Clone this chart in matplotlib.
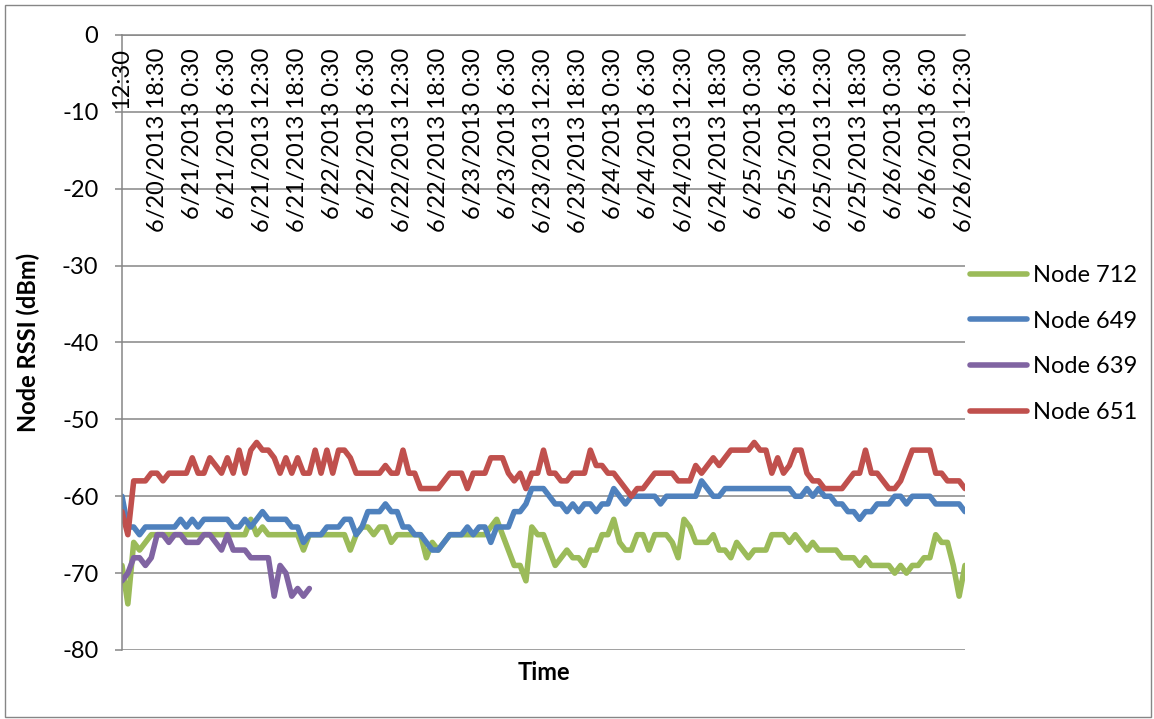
import matplotlib
matplotlib.use("Agg")
import matplotlib.pyplot as plt
import matplotlib.dates as mdates
import pandas as pd
from matplotlib.patches import Rectangle

plt.rcParams["font.family"] = ["Lato", "DejaVu Sans"]
plt.rcParams["axes.unicode_minus"] = False

# hourly RSSI readings, 6/20/2013 12:30 .. 6/26/2013 12:30
start = "2013-06-20 12:30"

node_712 = [
    -69, -74, -66, -67, -66, -65, -65, -65, -65, -65, -65, -65, -65, -65, -65, -65, -65, -65, -65, -65, -65, -65, -63, -65,
    -64, -65, -65, -65, -65, -65, -65, -67, -65, -65, -65, -65, -65, -65, -65, -67, -65, -64, -64, -65, -64, -64, -66, -65,
    -65, -65, -65, -65, -68, -66, -67, -66, -65, -65, -65, -65, -65, -65, -65, -64, -63, -65, -67, -69, -69, -71, -64, -65,
    -65, -67, -69, -68, -67, -68, -68, -69, -67, -67, -65, -65, -63, -66, -67, -67, -65, -65, -67, -65, -65, -65, -66, -68,
    -63, -64, -66, -66, -66, -65, -67, -67, -68, -66, -67, -68, -67, -67, -67, -65, -65, -65, -66, -65, -66, -67, -66, -67,
    -67, -67, -67, -68, -68, -68, -69, -68, -69, -69, -69, -69, -70, -69, -70, -69, -69, -68, -68, -65, -66, -66, -69, -73, -69,
]

node_649 = [
    -60, -64, -64, -65, -64, -64, -64, -64, -64, -64, -63, -64, -63, -64, -63, -63, -63, -63, -63, -64, -64, -63, -64, -63,
    -62, -63, -63, -63, -63, -64, -64, -66, -65, -65, -65, -64, -64, -64, -63, -63, -65, -64, -62, -62, -62, -61, -62, -62,
    -64, -64, -65, -65, -66, -67, -67, -66, -65, -65, -65, -64, -65, -64, -64, -66, -64, -64, -64, -62, -62, -61, -59, -59,
    -59, -60, -61, -61, -62, -61, -62, -61, -61, -62, -61, -61, -59, -60, -61, -60, -60, -60, -60, -60, -61, -60, -60, -60,
    -60, -60, -60, -58, -59, -60, -60, -59, -59, -59, -59, -59, -59, -59, -59, -59, -59, -59, -59, -60, -60, -59, -60, -59,
    -60, -60, -61, -61, -62, -62, -63, -62, -62, -61, -61, -61, -60, -60, -61, -60, -60, -60, -60, -61, -61, -61, -61, -61, -62,
]

# node 639 stops reporting after ~33 hours
node_639 = [
    -71, -70, -68, -68, -69, -68, -65, -65, -66, -65, -65, -66, -66, -66, -65, -65, -66, -67, -65, -67, -67, -67, -68, -68,
    -68, -68, -73, -69, -70, -73, -72, -73, -72,
]

node_651 = [
    -62, -65, -58, -58, -58, -57, -57, -58, -57, -57, -57, -57, -55, -57, -57, -55, -56, -57, -55, -57, -54, -57, -54, -53,
    -54, -54, -55, -57, -55, -57, -55, -57, -57, -54, -57, -54, -57, -54, -54, -55, -57, -57, -57, -57, -57, -56, -57, -57,
    -54, -57, -57, -59, -59, -59, -59, -58, -57, -57, -57, -59, -57, -57, -57, -55, -55, -55, -57, -58, -57, -59, -57, -57,
    -54, -57, -57, -58, -58, -57, -57, -57, -54, -56, -56, -57, -57, -58, -59, -60, -59, -59, -58, -57, -57, -57, -57, -58,
    -58, -58, -56, -57, -56, -55, -56, -55, -54, -54, -54, -54, -53, -54, -54, -57, -55, -57, -56, -54, -54, -57, -58, -58,
    -59, -59, -59, -59, -58, -57, -57, -54, -57, -57, -58, -59, -59, -58, -56, -54, -54, -54, -54, -57, -57, -58, -58, -58, -59,
]

tick_labels = [
    "12:30",
    "6/20/2013 18:30",
    "6/21/2013 0:30", "6/21/2013 6:30", "6/21/2013 12:30", "6/21/2013 18:30",
    "6/22/2013 0:30", "6/22/2013 6:30", "6/22/2013 12:30", "6/22/2013 18:30",
    "6/23/2013 0:30", "6/23/2013 6:30", "6/23/2013 12:30", "6/23/2013 18:30",
    "6/24/2013 0:30", "6/24/2013 6:30", "6/24/2013 12:30", "6/24/2013 18:30",
    "6/25/2013 0:30", "6/25/2013 6:30", "6/25/2013 12:30", "6/25/2013 18:30",
    "6/26/2013 0:30", "6/26/2013 6:30", "6/26/2013 12:30",
]

series = [
    ("Node 712", node_712, "#9BBB59"),
    ("Node 649", node_649, "#4F81BD"),
    ("Node 639", node_639, "#8064A2"),
    ("Node 651", node_651, "#C0504D"),
]

GRID = "#868686"
FS = 17

W, H = 1154, 719
fig = plt.figure(figsize=(W / 100, H / 100), dpi=100)
ax = fig.add_axes([122 / W, 1 - 650 / H, 843 / W, 615 / H])

tick_times = pd.date_range(start, periods=len(tick_labels), freq="6h")

for name, values, color in series:
    t = pd.date_range(start, periods=len(values), freq="h")
    ax.plot(t, values, color=color, lw=4.0, label=name,
            solid_joinstyle="round", solid_capstyle="round")

ax.set_xlim(tick_times[0], tick_times[-1])
ax.set_ylim(-80, 0)
ax.set_yticks(range(-80, 1, 10))
ax.set_xticks([])
ax.yaxis.grid(True, color=GRID, lw=1.1)
ax.set_axisbelow(True)
ax.tick_params(axis="y", length=5, width=1.1, color=GRID, pad=12, labelsize=FS)
for side in ("right", "bottom"):
    ax.spines[side].set_visible(False)
for side in ("left", "top"):
    ax.spines[side].set_color(GRID)
    ax.spines[side].set_linewidth(1.1)

# category labels hang below the 0 line
for t, lab in zip(tick_times, tick_labels):
    ax.text(mdates.date2num(t), -1.7, lab, rotation=90, ha="center", va="top",
            fontsize=FS)

ax.set_ylabel("Node RSSI (dBm)", fontsize=FS, fontweight="bold")
ax.yaxis.set_label_coords(-0.097, 0.5)
ax.set_xlabel("Time", fontsize=FS, fontweight="bold")
ax.xaxis.set_label_coords(0.5, -0.018)

fig.legend(loc="center left", bbox_to_anchor=(970 / W, 1 - 344 / H), frameon=False,
           fontsize=FS, borderpad=0, borderaxespad=0, handlelength=2.4,
           handletextpad=0.25, labelspacing=1.05)

fig.patches.append(Rectangle((5 / W, 2 / H), 1146 / W, 712 / H, transform=fig.transFigure,
                             fill=False, edgecolor=GRID, lw=1))

fig.savefig("out.png", dpi=100)
